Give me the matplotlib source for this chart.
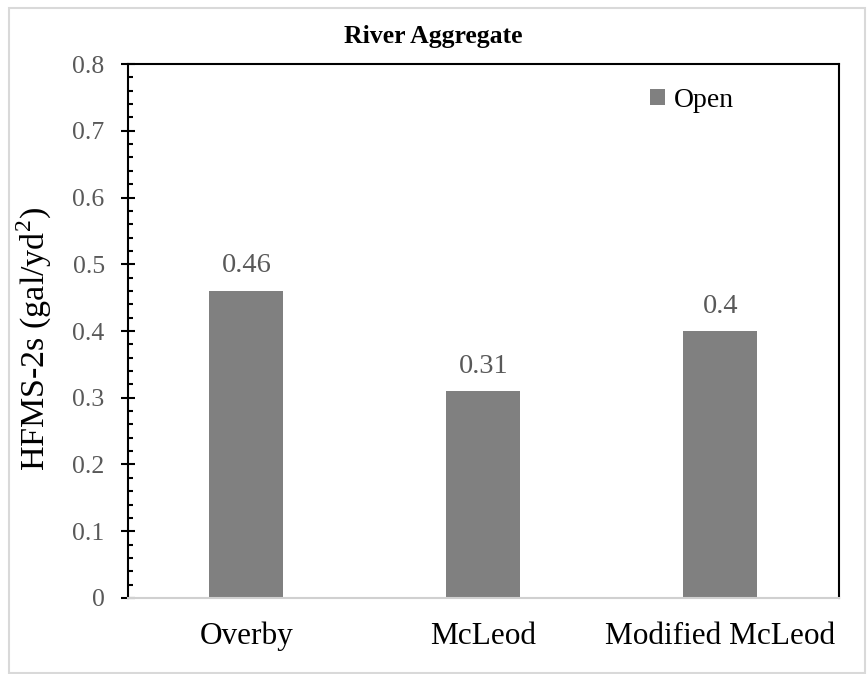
import matplotlib.pyplot as plt
from matplotlib.ticker import MultipleLocator
from matplotlib.patches import Rectangle

categories = ['Overby', 'McLeod', 'Modified McLeod']
values = [0.46, 0.31, 0.40]
value_labels = ['0.46', '0.31', '0.4']
series_name = 'Open'
yticks = [0, 0.1, 0.2, 0.3, 0.4, 0.5, 0.6, 0.7, 0.8]
ytick_labels = ['0', '0.1', '0.2', '0.3', '0.4', '0.5', '0.6', '0.7', '0.8']

plt.rcParams['font.family'] = ['Liberation Serif', 'DejaVu Serif']
plt.rcParams['mathtext.fontset'] = 'custom'
plt.rcParams['mathtext.rm'] = 'Liberation Serif'

fig = plt.figure(figsize=(8.67, 6.74), dpi=100)
ax = fig.add_axes([0.1476, 0.1128, 0.82, 0.7922])

bar_color = '#808080'
x = range(len(categories))
bars = ax.bar(x, values, width=0.312, color=bar_color, label=series_name, zorder=2)

# data labels above bars
for b, lab in zip(bars, value_labels):
    ax.annotate(lab, (b.get_x() + b.get_width() / 2, b.get_height()),
                xytext=(0, 9), textcoords='offset points',
                ha='center', va='bottom', fontsize=20.5, color='#595959')

ax.set_xlim(-0.5, 2.5)
ax.set_ylim(0, 0.8)
ax.set_yticks(yticks)
ax.set_yticklabels(ytick_labels)
ax.yaxis.set_minor_locator(MultipleLocator(0.02))
ax.tick_params(axis='y', which='major', direction='inout', length=9.5, width=1.5,
               labelsize=18.5, labelcolor='#595959', pad=12)
ax.tick_params(axis='y', which='minor', direction='in', length=3.8, width=1.5)

ax.set_xticks(list(x))
ax.set_xticklabels(categories)
ax.tick_params(axis='x', length=0, labelsize=22.5, labelcolor='black', pad=17)

for side in ['left', 'top', 'right']:
    ax.spines[side].set_color('black')
    ax.spines[side].set_linewidth(1.5)
ax.spines['bottom'].set_color('#d0d0d0')
ax.spines['bottom'].set_linewidth(1.5)

ax.set_ylabel('HFMS-2s (gal/yd$^{2}$)', fontsize=24.5)
ax.yaxis.set_label_coords(-0.104, 0.485)

# title is centred on the whole figure, not the axes
fig.text(0.5, 1 - 37 / 674, 'River Aggregate', ha='center', va='center',
         fontsize=18.5, fontweight='bold')

fig.legend(loc='center left', bbox_to_anchor=(650 / 867, 1 - 100.5 / 674),
           frameon=False, fontsize=20, borderpad=0, borderaxespad=0,
           handlelength=0.54, handleheight=0.54, handletextpad=0.32)

# light grey border around the whole chart
fig.add_artist(Rectangle((9 / 867, 1 / 674), 856 / 867, 665 / 674,
                         transform=fig.transFigure, fill=False,
                         edgecolor='#d9d9d9', linewidth=1.5))

fig.savefig('out.png', dpi=100)
